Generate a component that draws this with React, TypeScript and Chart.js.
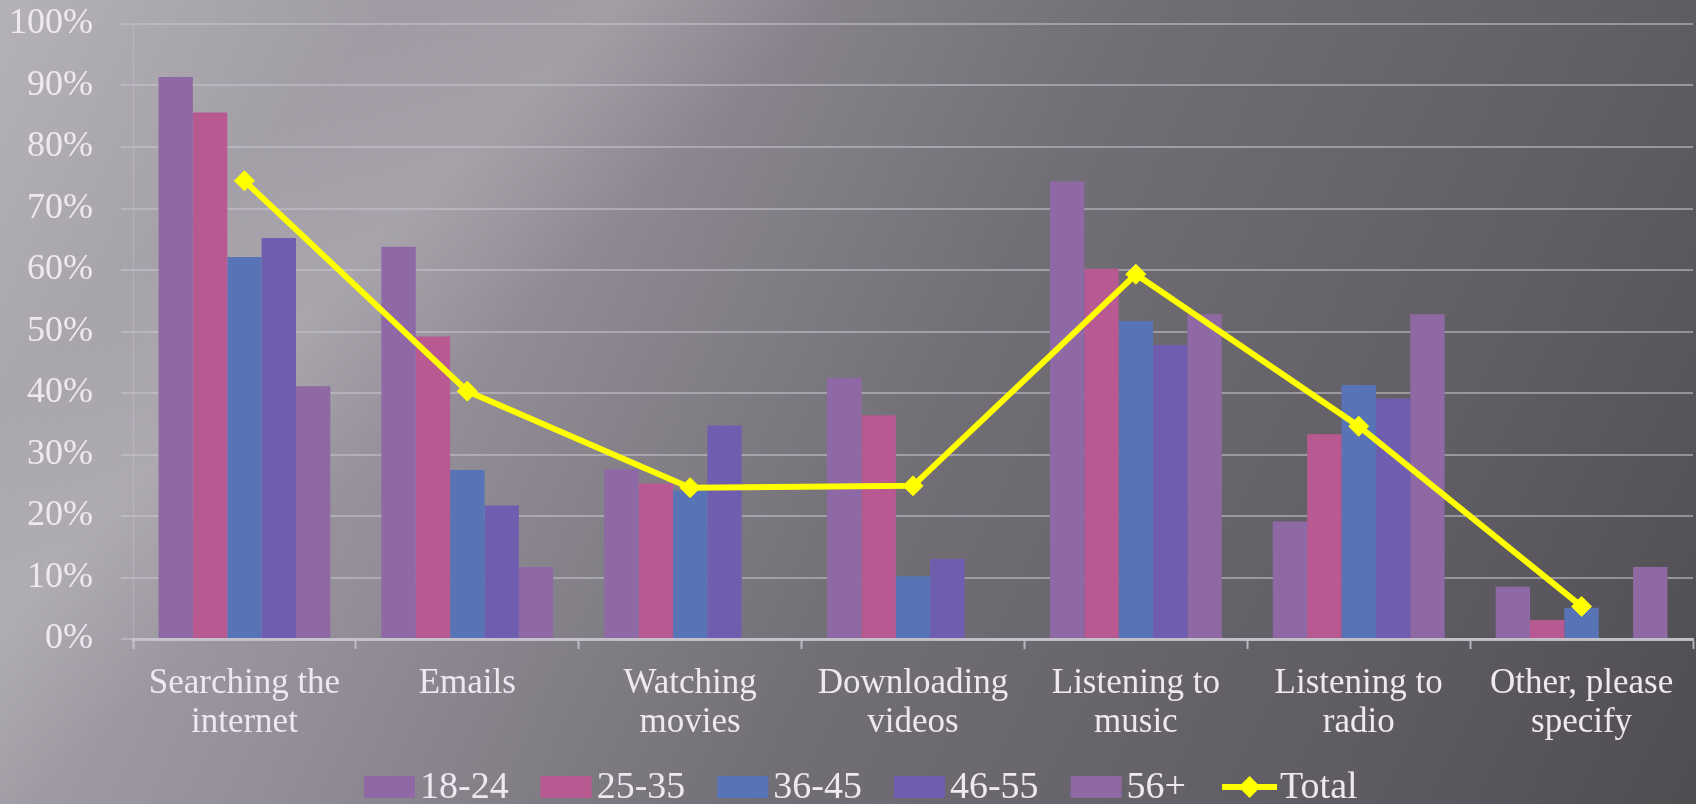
import React, { useEffect, useRef } from "react";
import { Chart, registerables } from "chart.js";

Chart.register(...registerables);

const categories: string[][] = [
  ["Searching the", "internet"],
  ["Emails"],
  ["Watching", "movies"],
  ["Downloading", "videos"],
  ["Listening to", "music"],
  ["Listening to", "radio"],
  ["Other, please", "specify"],
];
const seriesNames = ["18-24", "25-35", "36-45", "46-55", "56+"];
const v18_24 = [91.4, 63.8, 27.6, 42.5, 74.4, 19.1, 8.5];
const v25_35 = [85.6, 49.2, 25.3, 36.4, 60.2, 33.3, 3.1];
const v36_45 = [62.1, 27.5, 24.1, 10.2, 51.7, 41.3, 5.1];
const v46_55 = [65.2, 21.7, 34.7, 13.0, 47.8, 39.1, 0];
const v56plus = [41.1, 11.7, 0, 0, 52.8, 52.8, 11.7];
const totalName = "Total";
const totalValues = [74.5, 40.3, 24.6, 24.9, 59.3, 34.6, 5.3];
const yMin = 0;
const yMax = 100;
const yStep = 10;

const barColors = ["#8f69a6", "#b95991", "#5874b6", "#6f5eb0", "#8e69a4"];
const lineColor = "#ffff00";
const textColor = "#eee8f1";
const gridColor = "rgba(200,196,206,0.55)";
const fontFamily = "'Liberation Serif', 'Times New Roman', serif";

const backgroundPlugin = {
  id: "bgPlugin",
  beforeDraw(chart: any) {
    const { ctx } = chart;
    const width = 1696;
    const height = 804;
    ctx.save();
    const g = ctx.createLinearGradient(0, 0, width, height);
    g.addColorStop(0, "#b4b1b8");
    g.addColorStop(0.3, "#948f98");
    g.addColorStop(0.55, "#716e75");
    g.addColorStop(0.8, "#605e64");
    g.addColorStop(1, "#4f4d52");
    ctx.fillStyle = g;
    ctx.fillRect(0, 0, chart.width, chart.height);
    const s = ctx.createLinearGradient(200, 200, 420, 420);
    s.addColorStop(0, "rgba(255,255,255,0)");
    s.addColorStop(0.5, "rgba(255,255,255,0.13)");
    s.addColorStop(1, "rgba(255,255,255,0)");
    ctx.fillStyle = s;
    ctx.fillRect(0, 0, chart.width, chart.height);
    ctx.restore();
  },
};

const legendPlugin = {
  id: "customLegend",
  afterDraw(chart: any) {
    const { ctx } = chart;
    ctx.save();
    ctx.font = `38px ${fontFamily}`;
    ctx.textBaseline = "alphabetic";
    ctx.textAlign = "left";
    const baseline = 798;
    let x = 364;
    const boxW = 51;
    const boxH = 22;
    seriesNames.forEach((name, i) => {
      ctx.fillStyle = barColors[i];
      ctx.fillRect(x, baseline - boxH, boxW, boxH);
      ctx.fillStyle = textColor;
      ctx.fillText(name, x + boxW + 5, baseline);
      const w = ctx.measureText(name).width;
      x += boxW + 5 + w + 32;
    });
    const lx = x + 4;
    const cy = baseline - boxH / 2;
    ctx.strokeStyle = lineColor;
    ctx.lineWidth = 6;
    ctx.beginPath();
    ctx.moveTo(lx, cy);
    ctx.lineTo(lx + 55, cy);
    ctx.stroke();
    ctx.fillStyle = lineColor;
    ctx.beginPath();
    const cx = lx + 27.5;
    const r = 11;
    ctx.moveTo(cx, cy - r);
    ctx.lineTo(cx + r, cy);
    ctx.lineTo(cx, cy + r);
    ctx.lineTo(cx - r, cy);
    ctx.closePath();
    ctx.fill();
    ctx.fillStyle = textColor;
    ctx.fillText(totalName, lx + 58, baseline);
    ctx.restore();
  },
};

export default function App() {
  const canvasRef = useRef<HTMLCanvasElement | null>(null);

  useEffect(() => {
    if (!canvasRef.current) return;
    const seriesValues = [v18_24, v25_35, v36_45, v46_55, v56plus];
    const barDatasets = seriesNames.map((name, i) => ({
      type: "bar" as const,
      label: name,
      data: seriesValues[i],
      backgroundColor: barColors[i],
      borderWidth: 0,
      categoryPercentage: 0.771,
      barPercentage: 1.0,
      order: 2,
    }));
    const chart = new Chart(canvasRef.current, {
      type: "bar",
      data: {
        labels: categories,
        datasets: [
          ...barDatasets,
          {
            type: "line" as const,
            label: totalName,
            data: totalValues,
            borderColor: lineColor,
            backgroundColor: lineColor,
            borderWidth: 6,
            pointStyle: "rectRot",
            pointRadius: 10,
            pointBackgroundColor: lineColor,
            pointBorderColor: lineColor,
            pointBorderWidth: 1,
            tension: 0,
            fill: false,
            order: 0,
          } as any,
        ],
      },
      options: {
        responsive: true,
        maintainAspectRatio: false,
        animation: false,
        layout: { padding: { top: 24, right: 0, left: 0, bottom: 0 } },
        plugins: {
          legend: { display: false },
          tooltip: { enabled: false },
        },
        scales: {
          x: {
            grid: {
              display: true,
              drawOnChartArea: false,
              drawTicks: true,
              tickLength: 10,
              tickColor: "rgba(206,202,212,0.8)",
              tickWidth: 2,
              offset: true,
            },
            border: { display: true, color: "rgba(200,196,206,0.9)", width: 3 },
            ticks: {
              color: textColor,
              font: { family: fontFamily, size: 35, lineHeight: 1.1 },
              padding: 16,
              maxRotation: 0,
              autoSkip: false,
            },
            afterFit(scale: any) {
              scale.height = 165;
              scale.paddingLeft = 0;
              scale.paddingRight = 0;
            },
          },
          y: {
            min: yMin,
            max: yMax,
            ticks: {
              stepSize: yStep,
              color: textColor,
              font: { family: fontFamily, size: 36 },
              padding: 28,
              callback: (v: any) => `${v}%`,
            },
            grid: {
              color: gridColor,
              lineWidth: 2,
              drawTicks: true,
              tickLength: 12,
              tickColor: gridColor,
            },
            border: { display: true, color: "rgba(200,196,206,0.45)", width: 1 },
            afterFit(scale: any) {
              scale.width = 133;
              scale.paddingTop = 0;
              scale.paddingBottom = 0;
            },
          },
        },
      },
      plugins: [backgroundPlugin, legendPlugin],
    });
    return () => chart.destroy();
  }, []);

  return (
    <div style={{ position: "fixed", left: 0, top: 0, width: 1704, height: 804 }}>
      <canvas ref={canvasRef} />
    </div>
  );
}
